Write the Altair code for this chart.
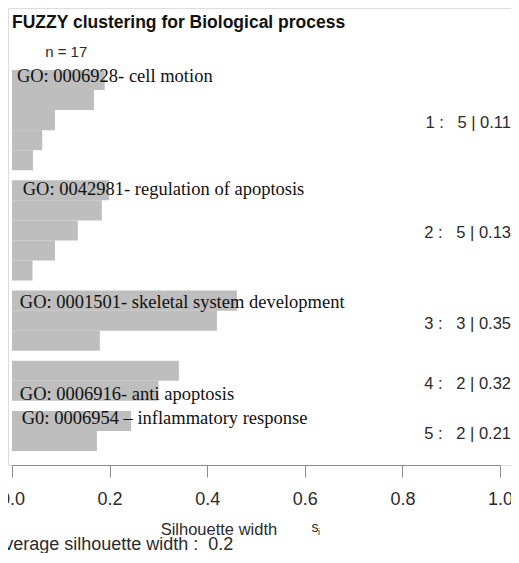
import altair as alt
import pandas as pd

# ---- data ----
cluster_ids = [1, 2, 3, 4, 5]
cluster_sizes = [5, 5, 3, 2, 2]
cluster_avg = ["0.11", "0.13", "0.35", "0.32", "0.21"]
sil_widths = [
    [0.190, 0.168, 0.088, 0.062, 0.043],
    [0.199, 0.184, 0.135, 0.088, 0.042],
    [0.461, 0.420, 0.180],
    [0.342, 0.300],
    [0.244, 0.174],
]
go_labels = [
    "GO: 0006928- cell motion",
    "GO: 0042981- regulation of apoptosis",
    "GO: 0001501- skeletal system development",
    "GO: 0006916- anti apoptosis",
    "G0: 0006954 \u2013 inflammatory response",
]
x_ticks = [0.0, 0.2, 0.4, 0.6, 0.8, 1.0]
n_total = 17
avg_total = "0.2"
title_text = "FUZZY clustering for Biological process"

NB = "\u00a0"

# ---- build bar table (R silhouette layout: 0.5 bar gap between clusters) ----
rows = []
pos = 0.0
cl_start, cl_end = [], []
for ci, ws in zip(cluster_ids, sil_widths):
    cl_start.append(pos)
    for w in ws:
        rows.append({"cluster": ci, "s": w, "y0": pos, "y1": pos + 1})
        pos += 1
    cl_end.append(pos)
    pos += 0.5
bars_df = pd.DataFrame(rows)
n_units = cl_end[-1]

xs = alt.Scale(domain=[0, 1], range=[4, 492])
ys = alt.Scale(domain=[0, n_units], range=[62, 443])

bars = alt.Chart(bars_df).mark_rect(color="#bebebe").encode(
    x=alt.X("s:Q", scale=xs,
            axis=alt.Axis(values=x_ticks, format=".1f", grid=False, tickSize=12,
                          domainColor="#8c8c8c", tickColor="#8c8c8c",
                          labelFont="Liberation Sans", labelFontSize=18,
                          labelColor="#2b2b2b", labelPadding=13, title=None,
                          labelFlush=False, labelOverlap=False)),
    x2=alt.datum(0),
    y=alt.Y("y0:Q", scale=ys, axis=None),
    y2="y1:Q",
)

# right-hand cluster summaries
summ_df = pd.DataFrame({
    "lab": [f"{c}{NB}:{NB}{NB}{NB}{n}{NB}|{NB}{a}"
            for c, n, a in zip(cluster_ids, cluster_sizes, cluster_avg)],
    "ym": [(a + b) / 2 + 0.15 for a, b in zip(cl_start, cl_end)],
    "xr": [1.0] * 5,
})
summ = alt.Chart(summ_df).mark_text(
    align="right", baseline="middle", font="Liberation Sans", fontSize=16.5,
    color="#2b2b2b", dx=11,
).encode(x=alt.X("xr:Q", scale=xs), y=alt.Y("ym:Q", scale=ys), text="lab:N")

# GO term annotations (anchored near each cluster)
go_anchor = [cl_start[0] + 0.6, cl_start[1] + 0.75, cl_start[2] + 0.85,
             cl_end[3] - 0.05, cl_start[4] + 0.65]
go_x = [0.010, 0.022, 0.016, 0.016, 0.020]
go_df = pd.DataFrame({"lab": go_labels, "yb": go_anchor, "xl": go_x})
go = alt.Chart(go_df).mark_text(
    align="left", baseline="alphabetic", font="Liberation Serif", fontSize=18.5,
    color="#111111",
).encode(x=alt.X("xl:Q", scale=xs), y=alt.Y("yb:Q", scale=ys), text="lab:N")

# title and n
title_m = alt.Chart(pd.DataFrame({"lab": [title_text], "xl": [0.0], "yb": [-2.1]})).mark_text(
    align="left", baseline="alphabetic", font="Liberation Sans", fontSize=17.5,
    fontWeight="bold", color="#111111",
).encode(x=alt.X("xl:Q", scale=xs), y=alt.Y("yb:Q", scale=ys), text="lab:N")
n_m = alt.Chart(pd.DataFrame({"lab": [f"n = {n_total}"], "xl": [0.068], "yb": [-0.65]})).mark_text(
    align="left", baseline="alphabetic", font="Liberation Sans", fontSize=15,
    color="#2b2b2b",
).encode(x=alt.X("xl:Q", scale=xs), y=alt.Y("yb:Q", scale=ys), text="lab:N")

# x axis title with s_i, and average silhouette width
xt = alt.Chart(pd.DataFrame({"lab": ["Silhouette width"], "xc": [0.424], "yb": [23.19]})).mark_text(
    align="center", baseline="alphabetic", font="Liberation Sans", fontSize=16.5,
    color="#2b2b2b",
).encode(x=alt.X("xc:Q", scale=xs), y=alt.Y("yb:Q", scale=ys), text="lab:N")
s_m = alt.Chart(pd.DataFrame({"lab": ["s"], "xc": [0.621], "yb": [23.05]})).mark_text(
    align="center", baseline="alphabetic", font="Liberation Sans", fontSize=14,
    color="#2b2b2b",
).encode(x=alt.X("xc:Q", scale=xs), y=alt.Y("yb:Q", scale=ys), text="lab:N")
i_m = alt.Chart(pd.DataFrame({"lab": ["i"], "xc": [0.629], "yb": [23.2]})).mark_text(
    align="center", baseline="alphabetic", font="Liberation Sans", fontSize=9,
    color="#2b2b2b",
).encode(x=alt.X("xc:Q", scale=xs), y=alt.Y("yb:Q", scale=ys), text="lab:N")
avg_m = alt.Chart(pd.DataFrame({"lab": [f"Average silhouette width :{NB}{NB}{avg_total}"],
                                "xl": [-0.04], "yb": [23.95]})).mark_text(
    align="left", baseline="alphabetic", font="Liberation Sans", fontSize=18,
    color="#2b2b2b",
).encode(x=alt.X("xl:Q", scale=xs), y=alt.Y("yb:Q", scale=ys), text="lab:N")

chart = alt.layer(bars, summ, go, title_m, n_m, xt, s_m, i_m, avg_m).properties(
    width=503, height=457,
    autosize=alt.AutoSizeParams(type="none"),
    padding={"left": 0, "top": 0, "right": 0, "bottom": 88},
).configure_view(stroke=None).configure(background="white")

chart.save("out.html", embed_options={"renderer": "svg", "actions": False})
